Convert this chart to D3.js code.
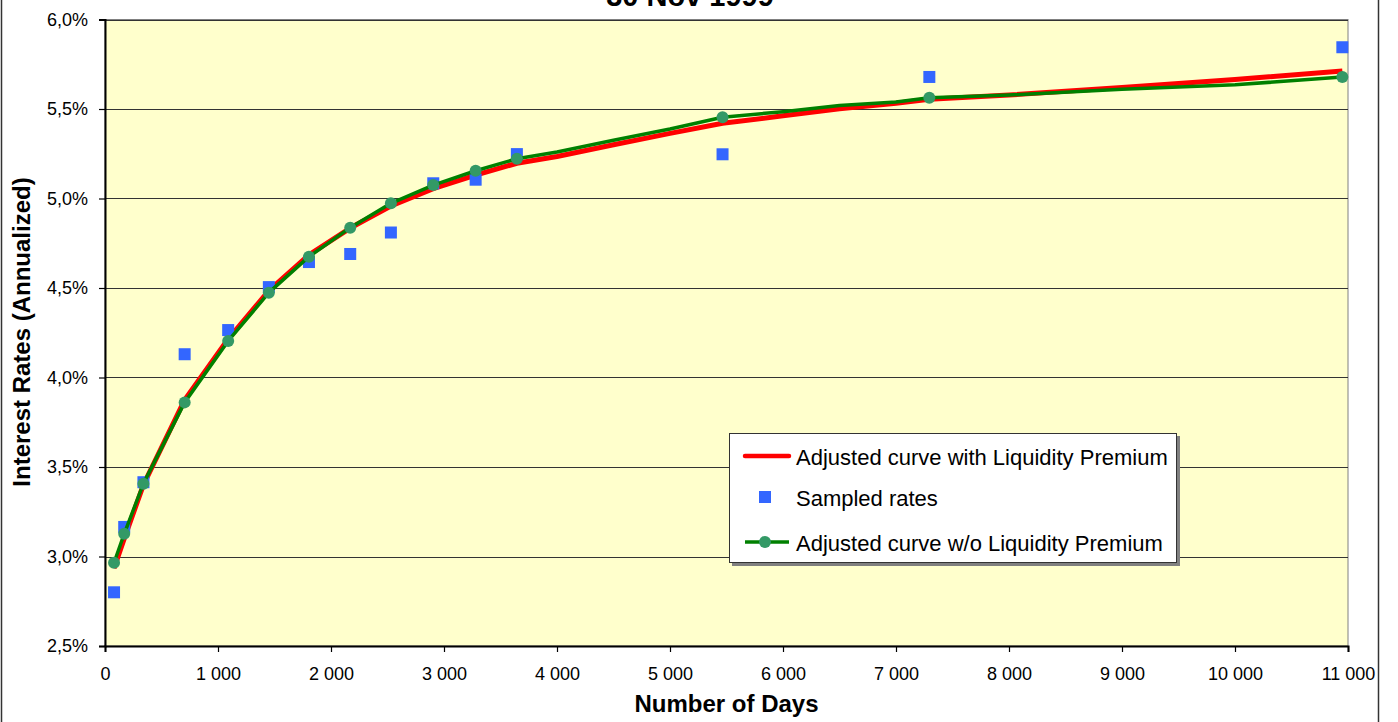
<!DOCTYPE html>
<html>
<head>
<meta charset="utf-8">
<script src="https://cdn.jsdelivr.net/npm/d3@7"></script>
<style>
  body { margin: 0; background: #fff; }
  svg { display: block; font-family: "Liberation Sans", Arial, sans-serif; }
</style>
</head>
<body>
<div id="chart"></div>
<script>
// days to maturity of sampled instruments
const sampleDays = [80, 170, 340, 705, 1090, 1450, 1805, 2170, 2530, 2905, 3280, 3645, 5465, 7295, 10950];
const sampledRates = [2.80, 3.165, 3.415, 4.13, 4.265, 4.505, 4.645, 4.69, 4.81, 5.085, 5.105, 5.248, 5.247, 5.679, 5.845];

// fitted curves
const curveDays = [80, 170, 340, 705, 1090, 1450, 1805, 2170, 2530, 2905, 3280, 3645, 4000, 4500, 5000, 5465, 6000, 6500, 7000, 7295, 8000, 9000, 10000, 10950];
const withPremium = [2.934, 3.10, 3.40, 3.875, 4.215, 4.485, 4.685, 4.835, 4.958, 5.055, 5.131, 5.197, 5.235, 5.30, 5.364, 5.42, 5.462, 5.501, 5.532, 5.554, 5.578, 5.62, 5.665, 5.712];
const withoutPremium = [2.965, 3.127, 3.407, 3.861, 4.204, 4.474, 4.675, 4.837, 4.973, 5.075, 5.155, 5.222, 5.26, 5.325, 5.388, 5.454, 5.485, 5.52, 5.539, 5.563, 5.578, 5.61, 5.635, 5.679];

const xTicks = [0, 1000, 2000, 3000, 4000, 5000, 6000, 7000, 8000, 9000, 10000, 11000];
const yTicks = [2.5, 3.0, 3.5, 4.0, 4.5, 5.0, 5.5, 6.0];
const seriesNames = ["Adjusted curve with Liquidity Premium", "Sampled rates", "Adjusted curve w/o Liquidity Premium"];
const chartTitle = "30 Nov 1999";

const width = 1398, height = 722;
const plot = {left: 105, right: 1348, top: 19.5, bottom: 646};

const locale = d3.formatLocale({decimal: ",", thousands: " ", grouping: [3], currency: ["", ""]});

let svg = d3.select("#chart").append("svg")
    .attr("width", width)
    .attr("height", height);

// chart frame
svg.append("rect")
    .attr("x", 1.5).attr("y", -60)
    .attr("width", 1377).attr("height", 900)
    .style("fill", "#fff")
    .style("stroke", "#333")
    .style("stroke-width", 1.5);

// title sits partly above the top edge, as in the original
svg.append("text")
    .attr("x", 690).attr("y", 6)
    .attr("text-anchor", "middle")
    .style("font-weight", "bold")
    .style("font-size", "29px")
    .text(chartTitle);

let x = d3.scaleLinear().domain([0, 11000]).range([plot.left, plot.right]);
let y = d3.scaleLinear().domain([2.5, 6.0]).range([plot.bottom, plot.top]);

svg.append("rect")
    .attr("x", plot.left).attr("y", plot.top)
    .attr("width", plot.right - plot.left).attr("height", plot.bottom - plot.top)
    .style("fill", "#FFFFCC")
    .style("stroke", "#808080");

svg.selectAll()
    .data(yTicks.slice(1))
    .enter()
    .append("line")
    .attr("x1", plot.left).attr("x2", plot.right)
    .attr("y1", d => Math.round(y(d)) + 0.5).attr("y2", d => Math.round(y(d)) + 0.5)
    .style("stroke", "#333")
    .style("stroke-width", 1);

let xAxis = svg.append("g")
    .attr("transform", "translate(0," + plot.bottom + ")")
    .call(d3.axisBottom(x).tickValues(xTicks).tickSize(6).tickPadding(15).tickFormat(locale.format(",")));
let yAxis = svg.append("g")
    .attr("transform", "translate(" + plot.left + ",0)")
    .call(d3.axisLeft(y).tickValues(yTicks).tickSize(6).tickPadding(11).tickFormat(d => locale.format(".1f")(d) + "%"));

[xAxis, yAxis].forEach(function (a) {
    a.select(".domain").style("stroke", "#000").style("stroke-width", 2);
    a.selectAll(".tick line").style("stroke", "#000").style("stroke-width", 1.2);
    a.selectAll("text").style("font-size", "18px").style("fill", "#000")
        .style("font-family", "'Liberation Sans', Arial, sans-serif");
});

svg.append("text")
    .attr("x", (plot.left + plot.right) / 2).attr("y", 712)
    .attr("text-anchor", "middle")
    .style("font-weight", "bold").style("font-size", "24px")
    .text("Number of Days");

svg.append("text")
    .attr("transform", "translate(30,332) rotate(-90)")
    .attr("text-anchor", "middle")
    .style("font-weight", "bold").style("font-size", "24px")
    .text("Interest Rates (Annualized)");

let line = d3.line().x(d => x(d[0])).y(d => y(d[1]));
let redPts = curveDays.map((d, i) => [d, withPremium[i]]);
let greenPts = curveDays.map((d, i) => [d, withoutPremium[i]]);
let samplePts = sampleDays.map((d, i) => [d, sampledRates[i]]);
let markerPts = greenPts.filter(p => sampleDays.indexOf(p[0]) >= 0);

svg.append("path")
    .datum(redPts)
    .attr("d", line)
    .style("fill", "none")
    .style("stroke", "#FF0000")
    .style("stroke-width", 5)
    .style("stroke-linejoin", "round");

const sq = 12;
svg.selectAll()
    .data(samplePts)
    .enter()
    .append("rect")
    .attr("x", d => x(d[0]) - sq / 2)
    .attr("y", d => y(d[1]) - sq / 2)
    .attr("width", sq).attr("height", sq)
    .style("fill", "#3366FF");

svg.append("path")
    .datum(greenPts)
    .attr("d", line)
    .style("fill", "none")
    .style("stroke", "#008000")
    .style("stroke-width", 3.5)
    .style("stroke-linejoin", "round");

svg.selectAll()
    .data(markerPts)
    .enter()
    .append("circle")
    .attr("cx", d => x(d[0]))
    .attr("cy", d => y(d[1]))
    .attr("r", 6)
    .style("fill", "#339966");

// legend
let lg = svg.append("g");
lg.append("rect")
    .attr("x", 732).attr("y", 436).attr("width", 448).attr("height", 130)
    .style("fill", "#808080");
lg.append("rect")
    .attr("x", 729.5).attr("y", 433.5).attr("width", 447).attr("height", 129)
    .style("fill", "#fff").style("stroke", "#333").style("stroke-width", 1);

const rowY = [456, 497, 542];
lg.append("line")
    .attr("x1", 745).attr("x2", 789).attr("y1", rowY[0]).attr("y2", rowY[0])
    .style("stroke", "#FF0000").style("stroke-width", 4.5).style("stroke-linecap", "round");
lg.append("rect")
    .attr("x", 765 - sq / 2).attr("y", rowY[1] - sq / 2).attr("width", sq).attr("height", sq)
    .style("fill", "#3366FF");
lg.append("line")
    .attr("x1", 745).attr("x2", 789).attr("y1", rowY[2]).attr("y2", rowY[2])
    .style("stroke", "#008000").style("stroke-width", 3.5);
lg.append("circle")
    .attr("cx", 765).attr("cy", rowY[2]).attr("r", 6)
    .style("fill", "#339966");

lg.selectAll()
    .data(seriesNames)
    .enter()
    .append("text")
    .attr("x", 796)
    .attr("y", (d, i) => rowY[i] + 8.5)
    .style("font-size", "22px")
    .style("fill", "#000")
    .text(d => d);
</script>
</body>
</html>
